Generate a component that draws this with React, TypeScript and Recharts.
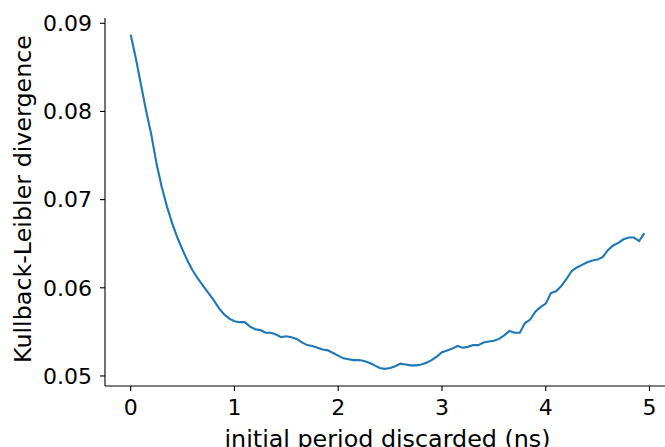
import React from 'react';
import { LineChart, Line, XAxis, YAxis } from 'recharts';

const FONT = '"DejaVu Sans", sans-serif';
const BLUE = '#1f77b4';

// discarded initial period, ns (0.05 ns steps)
const periods = Array.from({ length: 100 }, (_, i) => +(i * 0.05).toFixed(2));

// KL divergence
const klDivergence = [
  0.0887, 0.0860, 0.0830, 0.0800, 0.0773, 0.0740, 0.0714, 0.0692, 0.0673, 0.0657,
  0.0643, 0.0630, 0.0619, 0.0610, 0.0602, 0.0594, 0.0586, 0.0577, 0.0570, 0.0565,
  0.0562, 0.0561, 0.0561, 0.0556, 0.0553, 0.0552, 0.0549, 0.0549, 0.0547, 0.0544,
  0.0545, 0.0544, 0.0542, 0.0538, 0.0535, 0.0534, 0.0532, 0.0530, 0.0529, 0.0526,
  0.0523, 0.0520, 0.0519, 0.0518, 0.0518, 0.0517, 0.0515, 0.0512, 0.0509, 0.0508,
  0.0509, 0.0511, 0.0514, 0.0513, 0.0512, 0.0512, 0.0513, 0.0515, 0.0518, 0.0522,
  0.0527, 0.0529, 0.0531, 0.0534, 0.0532, 0.0533, 0.0535, 0.0535, 0.0538, 0.0539,
  0.0540, 0.0542, 0.0546, 0.0551, 0.0549, 0.0549, 0.0560, 0.0564, 0.0573, 0.0578,
  0.0582, 0.0594, 0.0596, 0.0602, 0.0610, 0.0619, 0.0623, 0.0626, 0.0629, 0.0631,
  0.0632, 0.0635, 0.0643, 0.0648, 0.0651, 0.0655, 0.0657, 0.0657, 0.0653, 0.0662,
];

const xTicks = [0, 1, 2, 3, 4, 5];
const yTicks = [0.05, 0.06, 0.07, 0.08, 0.09];

const data = periods.map((t, i) => ({ t, kl: klDivergence[i] }));

const tickStyle = { fill: '#000', fontSize: 22, fontFamily: FONT };
const LABEL_SIZE = 23.8;

export default function App() {
  return (
    <div style={{ position: 'absolute', left: 0, top: 0, width: 665, height: 447, overflow: 'hidden', background: '#fff' }}>
      <LineChart width={680} height={447} data={data} margin={{ top: 18, right: 10, bottom: 0, left: 0 }}>
        <XAxis
          dataKey="t"
          type="number"
          domain={[-0.2475, 5.1975]}
          ticks={xTicks}
          allowDataOverflow
          height={61}
          axisLine={{ stroke: '#000', strokeWidth: 1.1 }}
          tickLine={{ stroke: '#000', strokeWidth: 1.1 }}
          tickSize={5}
          tickMargin={8}
          tick={tickStyle}
          label={{
            value: 'initial period discarded (ns)',
            position: 'insideTop',
            offset: 44,
            fill: '#000',
            fontSize: LABEL_SIZE,
            fontFamily: FONT,
          }}
        />
        <XAxis
          xAxisId="top"
          dataKey="t"
          type="number"
          orientation="top"
          domain={[-0.2475, 5.1975]}
          allowDataOverflow
          height={0}
          tick={false}
          tickLine={false}
          axisLine={{ stroke: '#000', strokeWidth: 1.1 }}
        />
        <YAxis
          type="number"
          domain={[0.04886, 0.0906]}
          ticks={yTicks}
          allowDataOverflow
          width={105}
          axisLine={{ stroke: '#000', strokeWidth: 1.1 }}
          tickLine={{ stroke: '#000', strokeWidth: 1.1 }}
          tickSize={5}
          tickMargin={8}
          tick={tickStyle}
          tickFormatter={(v: number) => v.toFixed(2)}
          label={{
            content: ({ viewBox }: any) => {
              const cx = viewBox.x + 31;
              const cy = viewBox.y + viewBox.height / 2 - 3;
              return (
                <text
                  x={cx}
                  y={cy}
                  transform={`rotate(-90, ${cx}, ${cy})`}
                  textAnchor="middle"
                  fill="#000"
                  fontSize={LABEL_SIZE}
                  fontFamily={FONT}
                >
                  Kullback-Leibler divergence
                </text>
              );
            },
          }}
        />
        <Line
          type="linear"
          dataKey="kl"
          stroke={BLUE}
          strokeWidth={2.1}
          dot={false}
          isAnimationActive={false}
        />
      </LineChart>
    </div>
  );
}
